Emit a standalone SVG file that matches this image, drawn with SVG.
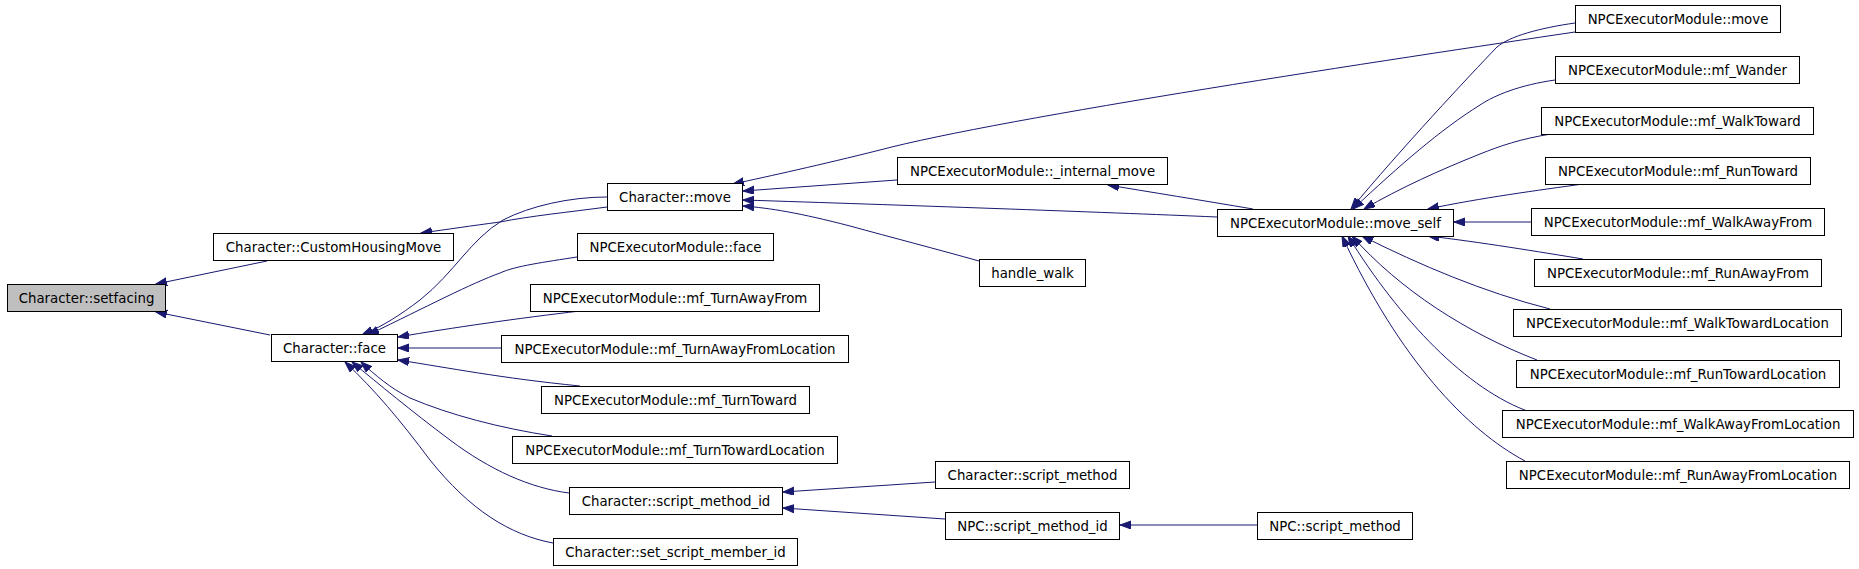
<svg xmlns="http://www.w3.org/2000/svg" width="1859" height="569" viewBox="0 0 1859 569">
<style>
.n rect{fill:#fff;stroke:#000;stroke-width:1}
.n.root rect{fill:#bfbfbf}
.n text{font-family:"DejaVu Sans",sans-serif;font-size:13.33px;fill:#000;text-anchor:middle}
#edges path{fill:none;stroke:#191970;stroke-width:1;marker-end:url(#ah)}
</style>
<defs>
<marker id="ah" markerUnits="userSpaceOnUse" markerWidth="12" markerHeight="9" refX="11" refY="4" orient="auto">
<path d="M0,0 L11,4 L0,8 z" fill="#191970" stroke="#191970" stroke-width="1"/>
</marker>
</defs>
<rect width="1859" height="569" fill="#fff"/>
<g id="edges">
<path d="M267,261 L156,284"/>
<path d="M270,335 L156,312"/>
<path d="M607,207 C570,212 530,216 500,222 C470,226 450,229 421,233"/>
<path d="M607,197 C570,197 530,206 503,220 C470,240 455,272 420,300 C400,315 385,325 362,335"/>
<path d="M577,257 C545,262 515,266 500,273 C470,284 430,305 368,335"/>
<path d="M580,311 C520,318 450,328 398,337"/>
<path d="M501,348 L398,348"/>
<path d="M580,386 C500,378 450,368 398,360"/>
<path d="M552,436 C500,428 450,415 410,398 C390,388 375,375 361,362"/>
<path d="M569,493 C530,488 490,470 450,440 C410,410 380,385 352,362"/>
<path d="M553,543 C510,535 470,510 430,460 C400,420 375,390 345,362"/>
<path d="M1575,32 C1400,58 1000,118 880,150 C820,165 770,176 733,184"/>
<path d="M897,180 L743,191"/>
<path d="M1217,217 C1100,212 900,205 743,200"/>
<path d="M979,261 C940,250 890,237 850,226 C800,213 770,208 743,206"/>
<path d="M1253,209 C1200,200 1150,192 1108,185"/>
<path d="M1575,23 C1540,28 1510,36 1497,47 C1470,75 1400,150 1351,209"/>
<path d="M1555,80 C1520,85 1495,95 1480,105 C1440,130 1400,165 1353,209"/>
<path d="M1551,134 C1520,139 1500,146 1480,154 C1440,170 1400,188 1364,209"/>
<path d="M1583,184 C1540,190 1480,198 1428,209"/>
<path d="M1531,222 L1454,222"/>
<path d="M1583,259 C1540,252 1480,242 1428,236"/>
<path d="M1550,309 C1483,292 1420,265 1362,236"/>
<path d="M1537,360 C1467,333 1400,290 1352,236"/>
<path d="M1530,412 C1467,390 1400,320 1348,236"/>
<path d="M1525,461 C1467,430 1400,360 1342,236"/>
<path d="M935,482 L783,492"/>
<path d="M945,519 L783,508"/>
<path d="M1257,525 L1120,525"/>
</g>
<g id="setfacing" class="n root"><rect x="7.5" y="284.5" width="158" height="27"/><text x="86.5" y="302.5">Character::setfacing</text></g>
<g id="customhousingmove" class="n"><rect x="213.5" y="233.5" width="240" height="27"/><text x="333.5" y="251.5">Character::CustomHousingMove</text></g>
<g id="face" class="n"><rect x="271.5" y="334.5" width="126" height="27"/><text x="334.5" y="352.5">Character::face</text></g>
<g id="move" class="n"><rect x="607.5" y="183.5" width="135" height="27"/><text x="675" y="201.5">Character::move</text></g>
<g id="npcface" class="n"><rect x="577.5" y="233.5" width="196" height="27"/><text x="675.5" y="251.5">NPCExecutorModule::face</text></g>
<g id="turnawayfrom" class="n"><rect x="530.5" y="284.5" width="289" height="27"/><text x="675" y="302.5">NPCExecutorModule::mf_TurnAwayFrom</text></g>
<g id="turnawayfromlocation" class="n"><rect x="501.5" y="335.5" width="347" height="27"/><text x="675" y="353.5">NPCExecutorModule::mf_TurnAwayFromLocation</text></g>
<g id="turntoward" class="n"><rect x="541.5" y="386.5" width="268" height="27"/><text x="675.5" y="404.5">NPCExecutorModule::mf_TurnToward</text></g>
<g id="turntowardlocation" class="n"><rect x="512.5" y="436.5" width="325" height="27"/><text x="675" y="454.5">NPCExecutorModule::mf_TurnTowardLocation</text></g>
<g id="scriptmethodid" class="n"><rect x="569.5" y="487.5" width="213" height="27"/><text x="676" y="505.5">Character::script_method_id</text></g>
<g id="setscriptmemberid" class="n"><rect x="553.5" y="538.5" width="244" height="27"/><text x="675.5" y="556.5">Character::set_script_member_id</text></g>
<g id="internalmove" class="n"><rect x="897.5" y="157.5" width="270" height="27"/><text x="1032.5" y="175.5">NPCExecutorModule::_internal_move</text></g>
<g id="handlewalk" class="n"><rect x="979.5" y="259.5" width="106" height="27"/><text x="1032.5" y="277.5">handle_walk</text></g>
<g id="charscriptmethod" class="n"><rect x="935.5" y="461.5" width="194" height="27"/><text x="1032.5" y="479.5">Character::script_method</text></g>
<g id="npcscriptmethodid" class="n"><rect x="945.5" y="512.5" width="174" height="27"/><text x="1032.5" y="530.5">NPC::script_method_id</text></g>
<g id="npcscriptmethod" class="n"><rect x="1257.5" y="512.5" width="155" height="27"/><text x="1335" y="530.5">NPC::script_method</text></g>
<g id="moveself" class="n"><rect x="1217.5" y="209.5" width="236" height="27"/><text x="1335.5" y="227.5">NPCExecutorModule::move_self</text></g>
<g id="npcmove" class="n"><rect x="1575.5" y="5.5" width="205" height="27"/><text x="1678" y="23.5">NPCExecutorModule::move</text></g>
<g id="wander" class="n"><rect x="1555.5" y="56.5" width="244" height="27"/><text x="1677.5" y="74.5">NPCExecutorModule::mf_Wander</text></g>
<g id="walktoward" class="n"><rect x="1541.5" y="107.5" width="272" height="27"/><text x="1677.5" y="125.5">NPCExecutorModule::mf_WalkToward</text></g>
<g id="runtoward" class="n"><rect x="1545.5" y="157.5" width="265" height="27"/><text x="1678" y="175.5">NPCExecutorModule::mf_RunToward</text></g>
<g id="walkawayfrom" class="n"><rect x="1531.5" y="208.5" width="293" height="27"/><text x="1678" y="226.5">NPCExecutorModule::mf_WalkAwayFrom</text></g>
<g id="runawayfrom" class="n"><rect x="1534.5" y="259.5" width="287" height="27"/><text x="1678" y="277.5">NPCExecutorModule::mf_RunAwayFrom</text></g>
<g id="walktowardlocation" class="n"><rect x="1513.5" y="309.5" width="328" height="27"/><text x="1677.5" y="327.5">NPCExecutorModule::mf_WalkTowardLocation</text></g>
<g id="runtowardlocation" class="n"><rect x="1516.5" y="360.5" width="323" height="27"/><text x="1678" y="378.5">NPCExecutorModule::mf_RunTowardLocation</text></g>
<g id="walkawayfromlocation" class="n"><rect x="1502.5" y="410.5" width="351" height="27"/><text x="1678" y="428.5">NPCExecutorModule::mf_WalkAwayFromLocation</text></g>
<g id="runawayfromlocation" class="n"><rect x="1506.5" y="461.5" width="343" height="27"/><text x="1678" y="479.5">NPCExecutorModule::mf_RunAwayFromLocation</text></g>
</svg>
